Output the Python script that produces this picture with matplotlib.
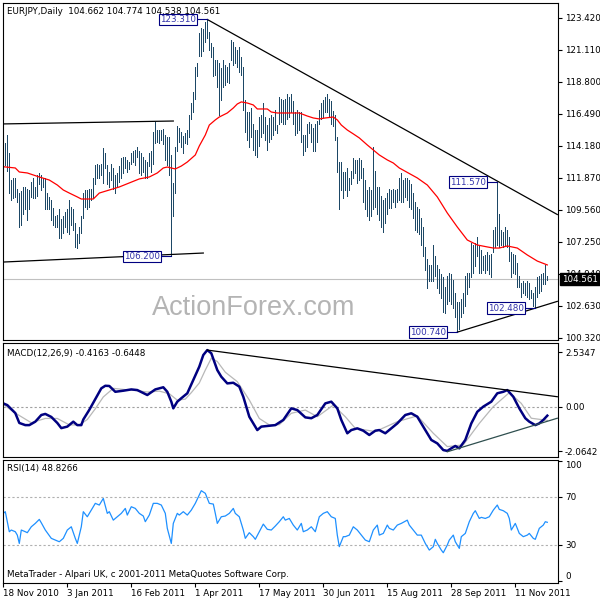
import matplotlib
matplotlib.use("Agg")
from matplotlib import pyplot as plt

# EURJPY daily bars, 18 Nov 2010 .. 25 Nov 2011
highs = [114.1, 114.4, 115.0, 113.7, 111.7, 111.9, 111.9, 111.1, 110.8, 110.9,
         111.2, 111.2, 111.1, 111.0, 111.6, 111.9, 111.2, 112.1, 112.2, 112.1,
         111.9, 111.9, 110.8, 110.5, 110.3, 109.7, 109.1, 109.2, 109.6, 108.9,
         109.1, 109.4, 109.6, 110.3, 109.8, 109.6, 108.6, 107.8, 108.3, 109.1,
         110.8, 111.0, 111.0, 111.1, 111.1, 111.9, 112.8, 112.9, 112.8,
         112.9, 114.0, 113.7, 112.8, 112.3, 112.9, 112.6, 112.1, 112.2, 112.7,
         113.3, 113.4, 113.4, 113.2, 113.0, 113.7, 113.8, 113.9, 114.1, 113.8,
         113.7, 113.4, 113.2, 113.0, 113.7, 113.8, 115.2, 115.9, 115.3, 115.3,
         115.3, 115.4, 115.0, 114.8, 114.8, 113.5, 111.5, 114.1, 115.6, 115.5,
         115.2, 114.9, 115.1, 115.3, 116.4, 117.3, 118.1,
         119.9,
         120.2, 122.3, 122.7, 122.6, 123.1, 123.31, 122.4, 121.6, 121.3, 120.4,
         120.4, 120.2, 119.8, 120.4, 120.0, 119.9, 120.2, 121.8, 121.7, 121.3,
         121.1, 121.3, 120.6, 119.9,
         117.5, 116.6, 116.6, 116.9, 115.8, 115.3, 115.3, 116.3, 116.4, 117.3,
         116.3, 115.7, 116.2, 116.4, 116.3, 116.8, 115.7, 117.7, 117.6, 117.5,
         117.6, 117.9, 117.7, 117.9, 117.4, 116.6, 116.8, 116.6,
         116.6, 115.0, 115.0, 115.8, 115.9, 115.8, 115.5, 115.8, 116.0, 116.8,
         117.3, 117.5, 117.7, 117.9, 117.6, 117.4, 116.7, 116.4, 114.8, 113.0,
         113.0, 112.3, 112.3, 112.6, 111.9, 112.4, 113.3, 113.2, 113.2, 113.3,
         113.2, 112.6, 111.7, 111.0, 111.2, 111.0, 114.1, 112.4, 111.2, 111.2,
         110.6, 110.3, 110.4, 110.8, 111.1, 111.0, 111.1, 111.0, 111.1,
         111.9,
         112.2, 111.7, 111.9, 111.9, 111.7, 111.4, 110.8, 110.1, 109.8, 109.6,
         109.0, 108.3, 106.9, 106.0, 105.6, 105.6, 107.0, 106.2, 105.6, 105.3,
         104.9, 104.7, 104.0, 104.8, 105.0, 104.9, 104.5, 103.6, 102.9, 102.9,
         103.1, 103.6, 104.8, 105.0, 105.0, 107.2, 107.0, 107.2, 107.6, 107.0,
         106.7, 106.2, 106.3, 106.5, 106.3, 106.4, 108.1, 108.3, 111.57, 109.3,
         108.1, 108.0, 108.3, 108.1, 107.6, 106.5, 106.4, 106.3, 105.7, 104.8,
         104.3, 104.4, 104.3, 104.4, 104.3, 103.8, 103.6, 104.0, 104.7, 104.8,
         104.9, 105.0, 105.6, 104.774]
lows = [112.1, 112.8, 112.4, 110.8, 110.3, 110.4, 110.5, 110.1, 108.3, 108.5,
        109.3, 109.6, 108.8, 109.6, 110.5, 110.4, 110.4, 110.6, 111.4, 111.0,
        111.2, 109.6, 109.6, 109.6, 108.8, 108.5, 108.3, 108.3, 107.5, 107.5,
        107.9, 108.3, 108.0, 107.8, 108.5, 108.1, 106.9, 106.8, 107.2, 107.9,
        109.0, 109.8, 109.6, 109.8, 110.3, 110.4, 111.4, 111.9, 111.9,
        112.1, 111.5, 112.6, 111.4, 111.2, 111.7, 111.1, 110.8, 111.2, 111.6,
        111.9, 112.2, 112.6, 112.3, 112.5, 112.9, 113.0, 112.8, 113.4, 112.2,
        112.1, 112.3, 111.9, 111.9, 112.7, 112.3, 112.9, 114.4, 114.5, 114.4,
        114.6, 114.3, 113.2, 112.8, 112.1, 106.2, 109.1, 110.8, 113.8, 114.5,
        114.1, 113.7, 114.4, 114.3, 114.8, 116.1, 116.6,
        117.6,
        119.2, 120.7, 120.7, 121.0, 121.7, 122.0, 121.1, 120.6, 119.2, 119.3,
        118.4, 116.4, 117.5, 118.4, 118.6, 118.8, 118.7, 120.4, 120.0, 120.2,
        119.9, 119.5, 119.3, 116.8,
        115.2, 114.6, 114.1, 114.8, 113.9, 113.5, 113.4, 114.2, 114.8, 115.1,
        114.6, 113.9, 114.5, 114.7, 115.0, 115.3, 115.1, 115.8, 115.9, 115.8,
        115.8, 116.1, 116.3, 116.6, 115.8, 115.0, 115.1, 115.3,
        114.5, 113.5, 113.8, 114.1, 115.1, 114.5, 113.8, 113.8, 114.5, 115.8,
        116.1, 116.3, 116.6, 116.6, 116.3, 115.8, 115.6, 114.6, 112.3, 109.6,
        111.0, 110.4, 111.0, 110.6, 111.0, 111.4, 111.9, 112.2, 111.5, 111.7,
        111.9, 110.1, 109.6, 109.1, 108.8, 109.1, 109.6, 109.8, 109.3, 108.8,
        108.3, 108.0, 108.6, 109.3, 109.7, 109.7, 110.1, 109.8, 110.1,
        110.3,
        110.1, 110.1, 110.5, 110.3, 109.8, 109.6, 109.0, 108.1, 108.0, 107.8,
        107.0, 106.2, 105.2, 103.9, 104.4, 104.4, 104.4, 104.8, 103.9, 103.6,
        103.2, 102.2, 102.1, 102.8, 103.0, 102.8, 102.5, 101.8, 100.74, 101.0,
        101.8, 102.1, 102.6, 103.5, 104.0, 104.7, 105.0, 105.5, 106.2, 105.0,
        105.0, 105.2, 105.0, 105.2, 104.9, 104.7, 106.5, 106.9, 107.0, 106.9,
        107.0, 106.9, 107.0, 106.9, 105.9, 104.7, 105.0, 104.9, 104.0, 104.0,
        103.3, 103.6, 103.4, 103.3, 103.1, 103.2, 102.6, 102.48, 103.3, 103.6,
        103.7, 104.2, 104.2, 104.538]

# red moving average
ma_idx = [0, 6, 8, 12, 18, 23, 27, 30, 33, 37, 39, 45, 48, 53, 58, 63, 68, 73, 77, 80,
          82, 86, 89, 92, 96, 98, 101, 103, 106, 108, 112, 115, 117, 119, 122, 125, 127, 132, 134, 137,
          142, 148, 152, 155, 158, 161, 165, 167, 169, 172, 175, 178, 182, 185, 188, 192, 195, 198, 207, 212,
          217, 222, 227, 232, 237, 242, 245, 248, 252, 257, 262, 267, 272]
ma_val = [112.68, 112.59, 112.30, 112.23, 111.94, 111.72, 111.36, 111.00, 110.78, 110.50,
          110.35, 110.35, 110.78, 111.00, 111.22, 111.51, 111.80, 111.94, 112.23, 112.59,
          112.66, 112.52, 112.73, 113.02, 113.53, 114.18, 114.97, 115.69, 116.06, 116.27,
          116.56, 116.92, 117.21, 117.36, 117.28, 117.14, 116.85, 116.85, 116.63, 116.56,
          116.56, 116.56, 116.34, 116.20, 116.13, 116.20, 116.27, 116.06, 115.69, 115.33,
          115.05, 114.76, 114.25, 113.89, 113.53, 113.17, 112.95, 112.59, 111.87, 111.36,
          110.50, 109.34, 108.33, 107.39, 107.03, 106.89, 106.81, 106.81, 106.96, 106.81,
          106.31, 105.87, 105.59]

# MACD(12,26,9) main and signal
macd_idx = [0, 2, 6, 8, 11, 13, 16, 19, 21, 24, 27, 29, 32, 35, 37, 39, 40, 43, 46, 49,
            51, 53, 56, 60, 64, 67, 72, 76, 80, 82, 84, 85, 87, 89, 92, 95, 98, 100, 102, 104,
            107, 109, 112, 115, 118, 120, 123, 127, 129, 132, 136, 140, 144, 147, 151, 154, 157, 161, 164, 167,
            169, 172, 174, 177, 180, 183, 186, 188, 191, 194, 197, 201, 204, 207, 211, 214, 217, 220, 222, 224,
            226, 228, 231, 234, 237, 240, 244, 247, 250, 252, 255, 258, 261, 263, 266, 268, 270, 272]
macd_val = [0.15, 0.07, -0.30, -0.76, -0.86, -0.86, -0.70, -0.39, -0.34, -0.48,
            -0.76, -1.00, -0.93, -0.70, -0.86, -0.86, -0.60, -0.15, 0.35, 0.85,
            0.97, 0.96, 0.69, 0.74, 0.80, 0.77, 0.54, 0.80, 0.90, 0.69,
            0.23, -0.08, 0.23, 0.39, 0.62, 1.24, 1.86, 2.40, 2.63, 2.48,
            1.70, 1.39, 1.08, 1.11, 0.93, 0.46, -0.47, -1.09, -0.93, -0.90,
            -0.86, -0.62, -0.08, -0.16, -0.50, -0.54, -0.39, 0.15, 0.23, -0.08,
            -0.62, -1.24, -1.09, -1.01, -1.12, -1.32, -1.12, -1.09, -1.24, -1.01,
            -0.78, -0.39, -0.31, -0.47, -1.09, -1.55, -1.71, -2.02, -2.06, -1.94,
            -1.83, -1.94, -1.55, -0.78, -0.24, 0.00, 0.23, 0.62, 0.69, 0.77,
            0.46, -0.08, -0.54, -0.70, -0.86, -0.78, -0.62, -0.42]
sig_idx = [0, 6, 14, 21, 27, 33, 38, 42, 46, 50, 55, 60, 66, 72, 78, 83, 87, 91, 94, 98,
           101, 104, 107, 111, 117, 123, 128, 133, 138, 144, 151, 157, 165, 171, 176, 186, 197, 207, 215, 222,
           230, 238, 245, 253, 259, 264, 272]
sig_val = [0.10, -0.30, -0.75, -0.55, -0.55, -0.85, -0.85, -0.60, -0.10, 0.45,
           0.85, 0.80, 0.75, 0.68, 0.72, 0.60, 0.30, 0.35, 0.65, 1.10,
           1.70, 2.25, 2.10, 1.60, 1.16, 0.31, -0.55, -0.85, -0.84, -0.31,
           -0.16, -0.47, 0.07, -0.47, -1.01, -1.16, -0.70, -0.43, -1.24, -1.86,
           -1.78, -0.78, 0.00, 0.65, 0.15, -0.54, -0.64]

# RSI(14)
rsi_idx = [0, 1, 3, 4, 6, 7, 8, 9, 11, 12, 14, 16, 18, 19, 21, 24, 26, 28, 30, 32,
           34, 36, 37, 39, 40, 42, 44, 46, 48, 50, 52, 53, 55, 57, 59, 61, 62, 64, 66, 68,
           70, 71, 73, 75, 77, 79, 81, 82, 84, 85, 87, 88, 90, 92, 94, 96, 98, 99, 101, 103,
           105, 106, 107, 109, 111, 113, 115, 116, 118, 120, 121, 123, 125, 126, 128, 130, 132, 134, 136, 138,
           140, 141, 143, 145, 147, 149, 150, 152, 154, 156, 158, 160, 162, 164, 166, 167, 168, 170, 171, 173,
           175, 177, 179, 181, 183, 185, 187, 188, 190, 192, 193, 195, 197, 199, 202, 203, 205, 207, 209, 211,
           213, 215, 216, 217, 219, 220, 222, 223, 225, 226, 228, 229, 231, 233, 235, 236, 238, 239, 241, 243,
           245, 247, 248, 250, 252, 253, 254, 256, 258, 260, 262, 263, 265, 266, 268, 270, 271, 272]
rsi_val = [56.2, 57.6, 41.0, 42.4, 41.0, 38.2, 31.3, 42.4, 41.0, 40.2,
           45.1, 47.9, 51.2, 48.4, 42.4, 35.5, 34.1, 32.7, 35.5, 42.4,
           45.1, 35.5, 31.3, 45.1, 57.6, 53.4, 58.9, 64.5, 63.1, 68.6,
           56.2, 57.6, 50.6, 53.4, 56.2, 60.3, 54.8, 61.7, 60.3, 56.2,
           54.0, 49.3, 54.8, 64.5, 64.5, 63.1, 56.2, 43.8, 31.3, 47.9,
           56.2, 54.8, 57.6, 54.8, 58.9, 64.5, 71.4, 75.0, 72.8, 64.5,
           63.9, 56.2, 47.9, 53.4, 54.0, 56.2, 60.3, 56.2, 53.4, 42.4,
           35.5, 40.2, 36.9, 34.7, 41.0, 47.3, 43.0, 42.4, 45.7, 49.3,
           53.4, 50.6, 52.0, 46.5, 42.4, 47.9, 41.0, 42.4, 45.1, 41.0,
           53.4, 56.2, 57.6, 53.4, 52.0, 38.2, 28.6, 36.9, 36.9, 38.2,
           45.1, 42.4, 38.2, 34.1, 32.7, 42.4, 46.5, 38.2, 39.6, 46.5,
           43.8, 42.4, 46.5, 47.9, 50.6, 46.5, 42.4, 38.2, 38.2, 31.3,
           25.8, 28.6, 34.7, 31.3, 25.8, 23.6, 30.0, 34.1, 38.2, 32.7,
           27.2, 36.9, 39.6, 49.3, 56.2, 58.4, 52.0, 52.9, 52.0, 53.4,
           58.9, 63.1, 59.5, 58.4, 56.2, 52.0, 42.4, 47.9, 39.6, 36.9,
           38.2, 39.6, 35.5, 34.7, 43.8, 46.5, 49.3, 48.8]

dates = ["18 Nov 2010", "3 Jan 2011", "16 Feb 2011", "1 Apr 2011", "17 May 2011",
         "30 Jun 2011", "15 Aug 2011", "28 Sep 2011", "11 Nov 2011"]
date_idx = [0, 32, 64, 96, 128, 160, 192, 224, 256]
price_ticks = [123.42, 121.11, 118.80, 116.49, 114.18, 111.87, 109.56, 107.25, 104.94, 102.63, 100.32]
last_price = 104.561
# labelled turning points: (bar, price)
marks = [(102, 123.31), (84, 106.20), (247, 111.57), (227, 100.74), (266, 102.48)]
# trend lines: (bar0, bar1), (price0, price1)
price_lines = [((0, 85), (115.77, 115.98)), ((0, 100), (105.80, 106.45)),
               ((102, 277), (123.31, 109.23)), ((227, 277), (100.74, 102.96))]
macd_lines = [((102, 277), (2.63, 0.46), 'black'), ((222, 277), (-2.10, -0.54), '#2f4f4f')]

fs = 6.3
plt.rcParams['font.family'] = ['DejaVu Sans']
plt.rcParams['font.size'] = fs

fig = plt.figure(figsize=(6, 6), dpi=100)
ax = fig.add_axes([0.005, 0.4333, 0.925, 0.5617])
ax_macd = fig.add_axes([0.005, 0.2383, 0.925, 0.19])
ax_rsi = fig.add_axes([0.005, 0.0283, 0.925, 0.205])

for a in (ax, ax_macd, ax_rsi):
    a.set_xlim(-0.15, 277.35)
    a.yaxis.tick_right()
    a.tick_params(axis='y', direction='out', length=3, width=0.8, pad=2, labelsize=fs)
    a.tick_params(axis='x', bottom=False, labelbottom=False)
    for s in a.spines.values():
        s.set_linewidth(0.8)

# ---- price panel ----
n = min(len(highs), len(lows))
ax.axhline(last_price, color='#c0c0c0', lw=0.8, zorder=0.5)
ax.vlines(range(n), lows[:n], highs[:n], color='#1d4866', lw=0.55, antialiased=False)
ax.plot(ma_idx, ma_val, color='red', lw=0.9)
for xs, ys in price_lines:
    ax.plot(xs, ys, color='black', lw=0.9)
for i, p in marks:
    ax.plot([i - 5.3, i], [p, p], color='#000080', lw=0.8)
    ax.text(i - 5.6, p, f'{p:.3f}', ha='right', va='center', color='#3333aa', fontsize=fs,
            bbox=dict(boxstyle='square,pad=0.15', fc='white', ec='#000080', lw=0.8))
ax.set_ylim(100.17, 124.50)
ax.set_yticks(price_ticks)
ax.set_yticklabels([f'{p:.3f}' for p in price_ticks])
ax.annotate(f'{last_price:.3f}', xy=(1, last_price), xycoords=('axes fraction', 'data'),
            xytext=(3, 0), textcoords='offset points', ha='left', va='center', color='white',
            fontsize=fs, bbox=dict(boxstyle='square,pad=0.2', fc='black', ec='black'),
            annotation_clip=False, zorder=10)
ax.text(0.008, 0.975, 'EURJPY,Daily  104.662 104.774 104.538 104.561', transform=ax.transAxes,
        ha='left', va='center', fontsize=fs)
ax.text(0.452, 0.095, 'ActionForex.com', transform=ax.transAxes, ha='center', va='center',
        fontsize=19.5, color='#b4b4b4', family='Liberation Sans')

# ---- MACD panel ----
ax_macd.axhline(0, color='#a0a0a0', lw=0.8, ls=(0, (2, 2)))
ax_macd.plot(sig_idx, sig_val, color='#b8b8b8', lw=0.9)
ax_macd.plot(macd_idx, macd_val, color='#000080', lw=1.8)
for xs, ys, c in macd_lines:
    ax_macd.plot(xs, ys, color=c, lw=0.9)
ax_macd.set_ylim(-2.344, 2.958)
ax_macd.set_yticks([2.5347, 0, -2.0642])
ax_macd.set_yticklabels(['2.5347', '0.00', '-2.0642'])
ax_macd.text(0.008, 0.912, 'MACD(12,26,9) -0.4163 -0.6448', transform=ax_macd.transAxes,
             ha='left', va='center', fontsize=fs)

# ---- RSI panel ----
for lvl in (30, 70):
    ax_rsi.axhline(lvl, color='#b0b0b0', lw=0.8, ls=(0, (2, 2)))
ax_rsi.plot(rsi_idx, rsi_val, color='#1e90ff', lw=0.9)
ax_rsi.set_ylim(-1.5, 100.4)
ax_rsi.set_yticks([0, 30, 70, 100])
ax_rsi.set_yticklabels(['0', '30', '70', '100'])
ylabs = ax_rsi.get_yticklabels()
ylabs[0].set_va('bottom')
ylabs[3].set_va('top')
ax_rsi.set_xticks(date_idx)
ax_rsi.set_xticklabels(dates, ha='left')
ax_rsi.tick_params(axis='x', bottom=True, labelbottom=True, direction='out', length=3,
                   width=0.8, pad=1.5, labelsize=fs)
ax_rsi.text(0.008, 0.935, 'RSI(14) 48.8266', transform=ax_rsi.transAxes,
            ha='left', va='center', fontsize=fs)
ax_rsi.text(0.008, 0.073, 'MetaTrader - Alpari UK, c 2001-2011 MetaQuotes Software Corp.',
            transform=ax_rsi.transAxes, ha='left', va='center', fontsize=fs)

fig.savefig('out.png', dpi=100)
